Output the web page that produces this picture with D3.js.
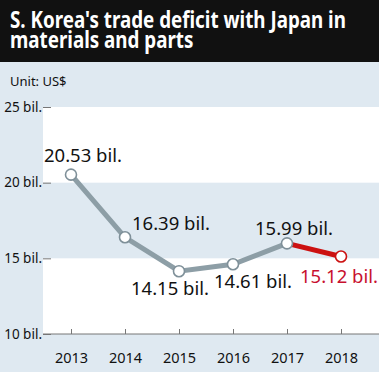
<!DOCTYPE html>
<html><head><meta charset="utf-8">
<script src="https://cdn.jsdelivr.net/npm/d3@7"></script>
<style>
html,body{margin:0;padding:0;background:#dfe9f1;}
svg{display:block;}
</style></head>
<body>
<script>
const years = ["2013","2014","2015","2016","2017","2018"];
const values = [20.53, 16.39, 14.15, 14.61, 15.99, 15.12];
const valueLabels = ["20.53 bil.","16.39 bil.","14.15 bil.","14.61 bil.","15.99 bil.","15.12 bil."];
const yTicks = [10, 15, 20, 25];
const yTickLabels = ["10 bil.","15 bil.","20 bil.","25 bil."];
const titleLines = ["S. Korea's trade deficit with Japan in", "materials and parts"];
const unitText = "Unit: US$";

const W = 379, H = 372;
const svg = d3.select("body").append("svg").attr("width", W).attr("height", H);
const font = "'Noto Sans', sans-serif";

svg.append("rect").attr("width", W).attr("height", H).attr("fill", "#dfe9f1");
svg.append("rect").attr("width", W).attr("height", 62).attr("fill", "#111");

const sy = 1.2;
const tg = svg.append("g").attr("transform", `scale(1,${sy})`);
titleLines.forEach((t, i) => {
  tg.append("text").attr("x", 10).attr("y", (28 + i * 20) / sy)
    .attr("fill", "#fff").attr("font-family", font)
    .attr("font-weight", 700).attr("font-size", 18.8).text(t);
});
svg.append("text").attr("x", 10).attr("y", 86).attr("fill", "#111")
  .attr("font-family", font).attr("font-size", 13).text(unitText);

const x = d3.scalePoint().domain(years).range([71, 341]);
const y = d3.scaleLinear().domain([10, 25]).range([334, 107]);
const left = 43, right = W;

// bands
[[25, 20], [15, 10]].forEach(([a, b]) => {
  svg.append("rect").attr("x", left).attr("width", right - left)
    .attr("y", y(a)).attr("height", y(b) - y(a)).attr("fill", "#fff");
});

// y axis ticks/labels
const yAxis = d3.axisLeft(y).tickValues(yTicks).tickSize(-8).tickPadding(2)
  .tickFormat(d => yTickLabels[yTicks.indexOf(d)]);
const ya = svg.append("g").attr("transform", `translate(${left},0)`).call(yAxis);
ya.select(".domain").remove();
ya.selectAll("line").attr("stroke", "#777");
ya.selectAll("text").attr("font-family", font).attr("font-size", 13.5).attr("fill", "#111").attr("x", -1);

// x axis
const xAxis = d3.axisBottom(x).tickSize(-5).tickPadding(19).tickSizeOuter(0);
const xa = svg.append("g").attr("transform", `translate(0,${y(10)})`).call(xAxis);
xa.select(".domain").attr("d", `M${left},0H${right}`).attr("stroke", "#777");
xa.selectAll("line").attr("stroke", "#777");
xa.selectAll("text").attr("font-family", font).attr("font-size", 14.5).attr("fill", "#111");

const pts = years.map((yr, i) => ({ yr, v: values[i], label: valueLabels[i] }));
const line = d3.line().x(d => x(d.yr)).y(d => y(d.v));
svg.append("path").datum(pts.slice(0, 5)).attr("d", line)
  .attr("fill", "none").attr("stroke", "#8d9ea6").attr("stroke-width", 5);
svg.append("path").datum(pts.slice(4)).attr("d", line)
  .attr("fill", "none").attr("stroke", "#cc1111").attr("stroke-width", 5);

svg.selectAll("circle.pt").data(pts).join("circle")
  .attr("cx", d => x(d.yr)).attr("cy", d => y(d.v)).attr("r", 5.5)
  .attr("fill", "#fff").attr("stroke", (d, i) => i === 5 ? "#cc1111" : "#7f9099")
  .attr("stroke-width", 1.6);

// label placement (dx, dy, anchor)
const place = [[-27, -13, "start"], [7, -7, "start"], [-9, 24, "middle"], [20, 24, "middle"], [7, -8, "middle"], [-2, 26, "middle"]];
svg.selectAll("text.lbl").data(pts).join("text")
  .attr("x", (d, i) => x(d.yr) + place[i][0]).attr("y", (d, i) => y(d.v) + place[i][1])
  .attr("text-anchor", (d, i) => place[i][2])
  .attr("font-family", font).attr("font-size", 18.5)
  .attr("fill", (d, i) => i === 5 ? "#c8102e" : "#111")
  .text(d => d.label);
</script>
</body></html>
